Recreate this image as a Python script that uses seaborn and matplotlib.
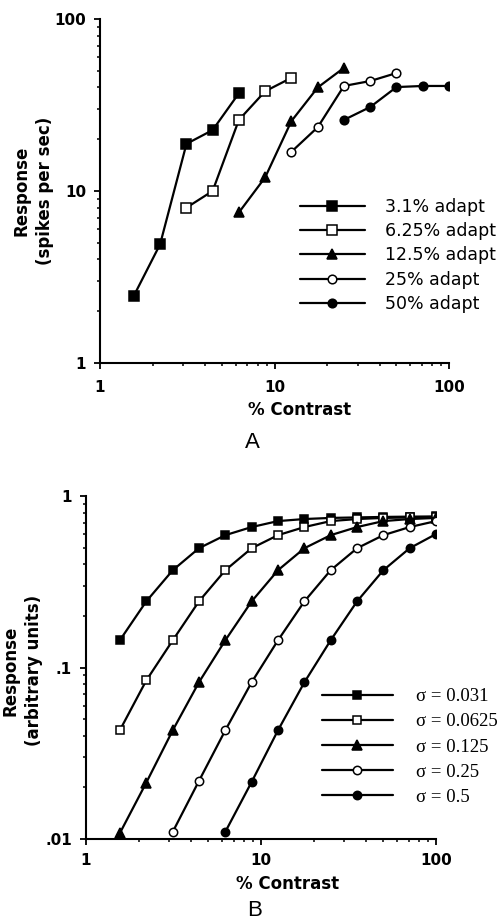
import numpy as np
import pandas as pd
import matplotlib
matplotlib.use("Agg")
import matplotlib.pyplot as plt
import seaborn as sns
from matplotlib.lines import Line2D
from matplotlib.legend_handler import HandlerLine2D
from matplotlib.ticker import FixedLocator, FixedFormatter, NullFormatter, LogLocator

# ---------------- data ----------------
contrast = [1.56, 2.21, 3.13, 4.42, 6.25, 8.84, 12.5, 17.7, 25, 35.4, 50, 70.7, 100]

# Panel A (measured responses, spikes/sec)
a_labels = ["3.1% adapt", "6.25% adapt", "12.5% adapt", "25% adapt", "50% adapt"]
a_start = [0, 2, 4, 6, 8]
a_31 = [2.45, 4.9, 18.8, 22.6, 37.0]
a_625 = [8.0, 10.0, 25.9, 38.0, 45.5]
a_125 = [7.5, 12.0, 25.5, 40.0, 52.0]
a_25 = [16.9, 23.5, 40.8, 43.6, 48.5]
a_50 = [25.9, 30.8, 40.2, 40.8, 40.8]

# Panel B (model, arbitrary units)
b_labels = ["σ = 0.031", "σ = 0.0625", "σ = 0.125", "σ = 0.25", "σ = 0.5"]
b_start = [0, 0, 0, 2, 4]
b_031 = [0.144, 0.243, 0.369, 0.496, 0.591, 0.659, 0.714, 0.734, 0.745, 0.750, 0.755, 0.758, 0.760]
b_0625 = [0.043, 0.084, 0.144, 0.243, 0.369, 0.496, 0.591, 0.659, 0.714, 0.734, 0.745, 0.750, 0.755]
b_125 = [0.0108, 0.0213, 0.043, 0.082, 0.144, 0.243, 0.369, 0.496, 0.591, 0.659, 0.714, 0.734, 0.745]
b_25 = [0.011, 0.0218, 0.043, 0.082, 0.144, 0.243, 0.369, 0.496, 0.591, 0.659, 0.714]
b_5 = [0.011, 0.0215, 0.043, 0.082, 0.144, 0.243, 0.369, 0.496, 0.600]

# marker styles: (marker, filled)
styles = [("s", True), ("s", False), ("^", True), ("o", False), ("o", True)]


def long_frame(labels, starts, series):
    rows = []
    for lab, st, ys in zip(labels, starts, series):
        for i, y in enumerate(ys):
            rows.append({"series": lab, "contrast": contrast[st + i], "response": y})
    return pd.DataFrame(rows)


dfA = long_frame(a_labels, a_start, [a_31, a_625, a_125, a_25, a_50])
dfB = long_frame(b_labels, b_start, [b_031, b_0625, b_125, b_25, b_5])

# ---------------- style ----------------
sns.set_theme(style="ticks")
plt.rcParams["font.family"] = ["DejaVu Sans"]
plt.rcParams["axes.linewidth"] = 1.5
plt.rcParams["text.color"] = "black"
plt.rcParams["axes.labelcolor"] = "black"
plt.rcParams["axes.edgecolor"] = "black"
plt.rcParams["xtick.color"] = "black"
plt.rcParams["ytick.color"] = "black"


class OffsetMarkerHandler(HandlerLine2D):
    def get_xdata(self, legend, xdescent, ydescent, width, height, fontsize):
        xdata = np.array([-xdescent, -xdescent + width], dtype=float)
        xm = np.array([-xdescent + 0.56 * width], dtype=float)
        return xdata, xm


fig = plt.figure(figsize=(4.99, 9.23), dpi=100)
W, H = 499.0, 923.0


def px_axes(l, r, t, b):
    return [l / W, 1 - b / H, (r - l) / W, (b - t) / H]


axA = fig.add_axes(px_axes(100, 449, 19, 363))
axB = fig.add_axes(px_axes(86, 436, 496, 839))


def draw(ax, df, labels, ms_sq, ms_tri, ms_circ):
    ax.set_xscale("log")
    ax.set_yscale("log")
    for lab, (mk, filled) in zip(labels, styles):
        sub = df[df["series"] == lab]
        ms = {"s": ms_sq, "^": ms_tri, "o": ms_circ}[mk]
        sns.lineplot(data=sub, x="contrast", y="response", ax=ax, color="black",
                     linewidth=1.6, marker=mk, markersize=ms,
                     markerfacecolor="black" if filled else "white",
                     markeredgecolor="black", markeredgewidth=1.1,
                     label=lab, legend=False, errorbar=None)


draw(axA, dfA, a_labels, 6.8, 7.2, 6.2)
draw(axB, dfB, b_labels, 6.2, 6.6, 6.0)

for ax in (axA, axB):
    sns.despine(ax=ax)
    ax.set_xlim(1, 100)
    ax.xaxis.set_major_locator(FixedLocator([1, 10, 100]))
    ax.xaxis.set_major_formatter(FixedFormatter(["1", "10", "100"]))
    ax.xaxis.set_minor_locator(LogLocator(base=10, subs=np.arange(2, 10)))
    ax.xaxis.set_minor_formatter(NullFormatter())
    ax.yaxis.set_minor_locator(LogLocator(base=10, subs=np.arange(2, 10)))
    ax.yaxis.set_minor_formatter(NullFormatter())
    ax.tick_params(which="major", direction="out", length=4, width=1.3,
                   labelsize=11, colors="black")
    ax.tick_params(which="minor", direction="out", length=2.5, width=1.1)
    ax.set_facecolor("white")

axA.set_ylim(1, 100)
axA.yaxis.set_major_locator(FixedLocator([1, 10, 100]))
axA.yaxis.set_major_formatter(FixedFormatter(["1", "10", "100"]))
axA.tick_params(axis="x", which="major", pad=8)
axA.tick_params(axis="y", which="major", pad=6)

axB.set_ylim(0.01, 1)
axB.yaxis.set_major_locator(FixedLocator([0.01, 0.1, 1]))
axB.yaxis.set_major_formatter(FixedFormatter([".01", ".1", "1"]))
axB.tick_params(axis="x", which="major", pad=6)
axB.tick_params(axis="y", which="major", pad=6)

for ax in (axA, axB):
    for t in ax.get_xticklabels() + ax.get_yticklabels():
        t.set_fontweight("bold")

# axis labels
axA.set_xlabel("% Contrast", fontsize=12, fontweight="bold")
axA.xaxis.set_label_coords((300 - 100) / 349, (363 - 401) / 344)
axA.set_ylabel("Response\n(spikes per sec)", fontsize=12, fontweight="bold", linespacing=1.4)
axA.yaxis.set_label_coords((54 - 100) / 349, 0.5)

axB.set_xlabel("% Contrast", fontsize=12, fontweight="bold")
axB.xaxis.set_label_coords((288 - 86) / 350, (839 - 875) / 343)
axB.set_ylabel("Response\n(arbitrary units)", fontsize=12, fontweight="bold", linespacing=1.4)
axB.yaxis.set_label_coords((43 - 86) / 350, 0.49)

# panel letters
fig.text(252 / W, 1 - 443 / H, "A", ha="center", va="center", fontsize=16,
         family=["Liberation Sans"])
fig.text(255 / W, 1 - 911 / H, "B", ha="center", va="center", fontsize=16,
         family=["Liberation Sans"])

# legends
hA, lA = axA.get_legend_handles_labels()
axA.legend(hA, lA, loc="upper left", bbox_to_anchor=(300 / W, 1 - 198 / H),
           bbox_transform=fig.transFigure, frameon=False, borderpad=0,
           borderaxespad=0, handlelength=65 / 17.4, handletextpad=20 / 17.4,
           labelspacing=0.36, prop={"family": "DejaVu Sans", "size": 12.5},
           handler_map={Line2D: OffsetMarkerHandler()})

hB, lB = axB.get_legend_handles_labels()
axB.legend(hB, lB, loc="upper left", bbox_to_anchor=(322 / W, 1 - 688 / H),
           bbox_transform=fig.transFigure, frameon=False, borderpad=0,
           borderaxespad=0, handlelength=68 / 18.0, handletextpad=22 / 18.0,
           labelspacing=0.43, prop={"family": "Liberation Serif", "size": 13.5},
           handler_map={Line2D: OffsetMarkerHandler()})

fig.savefig("out.png", dpi=100, facecolor="white")
